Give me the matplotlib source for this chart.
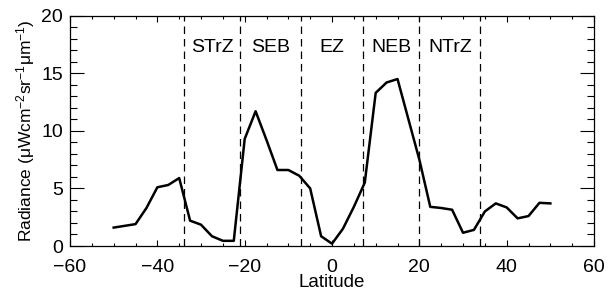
import matplotlib
matplotlib.use("Agg")
import matplotlib.pyplot as plt
from matplotlib.ticker import MultipleLocator

plt.rcParams['font.family'] = ['Liberation Sans', 'DejaVu Sans']

latitude = [-50, -47.5, -45, -42.5, -40, -37.5, -35, -32.5, -30, -27.5, -25, -22.5,
            -20, -17.5, -15, -12.5, -10, -7.5, -5, -2.5, 0, 2.5, 5, 7.5,
            10, 12.5, 15, 17.5, 20, 22.5, 25, 27.5, 30, 32.5, 35, 37.5,
            40, 42.5, 45, 47.5, 50]
radiance = [1.6, 1.75, 1.9, 3.3, 5.1, 5.3, 5.9, 2.2, 1.85, 0.85, 0.45, 0.45,
            9.3, 11.7, 9.2, 6.6, 6.6, 6.1, 5.0, 0.85, 0.2, 1.5, 3.4, 5.5,
            13.3, 14.2, 14.5, 11.0, 7.5, 3.4, 3.3, 3.15, 1.15, 1.4, 3.0, 3.7,
            3.35, 2.4, 2.6, 3.75, 3.7]

boundaries = [-34, -21, -7, 7, 20, 34]
zone_names = ["STrZ", "SEB", "EZ", "NEB", "NTrZ"]

fig = plt.figure(figsize=(6.1, 2.93), dpi=100)
ax = fig.add_axes([0.1148, 0.1604, 0.859, 0.786])

ax.plot(latitude, radiance, color="black", linewidth=1.8)

for b in boundaries:
    ax.axvline(b, color="black", linestyle=(0, (6, 4)), linewidth=0.9)
for i in range(len(zone_names)):
    xc = (boundaries[i] + boundaries[i + 1]) / 2
    ax.text(xc, 17.2, zone_names[i], ha="center", va="center", fontsize=14)

ax.set_xlim(-60, 60)
ax.set_ylim(0, 20)
ax.xaxis.set_major_locator(MultipleLocator(20))
ax.xaxis.set_minor_locator(MultipleLocator(5))
ax.yaxis.set_major_locator(MultipleLocator(5))
ax.yaxis.set_minor_locator(MultipleLocator(1))
ax.tick_params(axis="both", which="both", direction="in", top=True, right=True, labelsize=14)
ax.tick_params(axis="x", which="major", length=4, width=0.8, pad=9)
ax.tick_params(axis="x", which="minor", length=2, width=0.8)
ax.tick_params(axis="y", which="major", length=10, width=0.8, pad=5)
ax.tick_params(axis="y", which="minor", length=5, width=0.8)
for s in ax.spines.values():
    s.set_linewidth(0.9)

ax.set_xlabel("Latitude", fontsize=13.5, labelpad=-1)
ax.set_ylabel(r"Radiance ($\mathregular{\mu Wcm^{-2}sr^{-1}\mu m^{-1}}$)", fontsize=12.5, labelpad=3)

plt.savefig("out.png", format="png", dpi=100)
plt.close(fig)
